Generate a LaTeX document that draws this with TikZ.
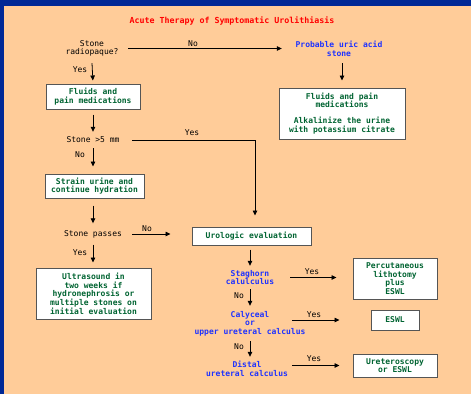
\documentclass[tikz,border=0pt]{standalone}
\usepackage{fontspec}
\setmainfont{DejaVu Sans Mono}
\usetikzlibrary{arrows.meta}
\definecolor{bgblue}{RGB}{0,40,150}
\definecolor{panel}{RGB}{255,204,153}
\definecolor{tgreen}{RGB}{0,100,50}
\definecolor{tblue}{RGB}{30,50,255}
\definecolor{tred}{RGB}{255,0,0}
\definecolor{bord}{RGB}{85,85,85}
\begin{document}
\begin{tikzpicture}[x=1pt,y=-1pt,
 every node/.style={font=\fontsize{8}{8.7}\selectfont, inner sep=0pt, align=center},
 box/.style={draw=bord, line width=1pt, fill=white, text=tgreen, font=\fontsize{8}{8.7}\selectfont\bfseries},
 dtext/.style={text=tblue, font=\fontsize{8}{8.7}\selectfont\bfseries},
 plain/.style={text=black},
 lbl/.style={text=black},
 arr/.style={draw=black, line width=0.8pt, -{Triangle[length=5pt,width=4.5pt]}}
]
\fill[bgblue] (0,0) rectangle (471,394);
\fill[panel] (4,6) rectangle (471,394);
\useasboundingbox (0,0) rectangle (471,394);

\node[font=\fontsize{8.3}{9}\selectfont\bfseries, text=tred] (title) at (232,21) {Acute Therapy of Symptomatic Urolithiasis};
\node[plain, minimum width=72pt, minimum height=29pt] (radio) at (92,48.5) {Stone\\radiopaque?};
\node[dtext, minimum width=114pt, minimum height=29pt] (uric) at (339,48.5) {Probable uric acid\\stone};
\node[box, minimum width=94pt, minimum height=25pt] (fpl) at (93,96.5) {Fluids and\\pain medications};
\node[box, minimum width=126pt, minimum height=51pt] (fpr) at (342,113.5) {Fluids and pain\\medications\\[7.3pt]Alkalinize the urine\\with potassium citrate};
\node[plain, minimum width=78pt, minimum height=16pt] (gt5) at (93,140) {Stone >5 mm};
\node[box, minimum width=99pt, minimum height=24pt] (strain) at (94.5,186) {Strain urine and\\continue hydration};
\node[plain, minimum width=78pt, minimum height=21pt] (passes) at (93,234) {Stone passes};
\node[box, minimum width=115pt, minimum height=51pt] (ultra) at (93.5,293.5) {Ultrasound in\\two weeks if\\hydronephrosis or\\multiple stones on\\initial evaluation};
\node[box, minimum width=119pt, minimum height=18pt] (uro) at (251.5,236) {Urologic evaluation};
\node[dtext, minimum width=80pt, minimum height=23pt] (stag) at (250,277.5) {Staghorn\\calulculus};
\node[dtext, minimum width=84pt, minimum height=35pt] (caly) at (250,323.5) {Calyceal\\or\\upper ureteral calculus};
\node[dtext, minimum width=90pt, minimum height=24pt] (distal) at (247,369) {Distal\\ureteral calculus};
\node[box, minimum width=84pt, minimum height=41pt] (perc) at (395,278.5) {Percutaneous\\lithotomy\\plus\\ESWL};
\node[box, minimum width=48pt, minimum height=20pt] (eswl) at (395,320) {ESWL};
\node[box, minimum width=84pt, minimum height=23pt] (uret) at (395,365.5) {Ureteroscopy\\or ESWL};

\draw[arr] (radio.east) -- (radio.east -| uric.west);
\draw[arr, shorten >=3pt] (radio.south) -- (fpl.north);
\draw[arr, shorten >=7pt] (fpr.north |- uric.south) -- (fpr.north);
\draw[arr, shorten <=5pt] (fpl.south) -- (gt5.north);
\draw[arr, shorten >=7pt] (gt5.south) -- (gt5.south |- strain.north);
\draw[arr, shorten >=11pt] (gt5.east) -| ([xshift=3.5pt]uro.north);
\draw[arr, shorten <=7pt] (passes.north |- strain.south) -- (passes.north);
\draw[arr, shorten >=21pt] (passes.east) -- (passes.east -| uro.west);
\draw[arr, shorten >=5pt] (passes.south) -- (passes.south |- ultra.north);
\draw[arr, shorten <=4pt] (stag.north |- uro.south) -- (stag.north);
\draw[arr, shorten >=16pt] (stag.east) -- (stag.east -| perc.west);
\draw[arr] (stag.south) -- (caly.north);
\draw[arr, shorten <=42pt, shorten >=31pt] (eswl.west -| caly.center) -- (eswl.west);
\draw[arr] (caly.south) -- (caly.south |- distal.north);
\draw[arr, shorten <=45pt, shorten >=13pt] (uret.west -| distal.center) -- (uret.west);

\node[lbl] (l1) at (193,44) {No};
\node[lbl] (l2) at (80,70) {Yes};
\node[lbl] (l3) at (192,133) {Yes};
\node[lbl] (l4) at (80,155) {No};
\node[lbl] (l5) at (147,229) {No};
\node[lbl] (l6) at (80,253) {Yes};
\node[lbl] (l7) at (312,272) {Yes};
\node[lbl] (l8) at (239,296) {No};
\node[lbl] (l9) at (314,315) {Yes};
\node[lbl] (l10) at (239,347) {No};
\node[lbl] (l11) at (314,359) {Yes};
\end{tikzpicture}
\end{document}
